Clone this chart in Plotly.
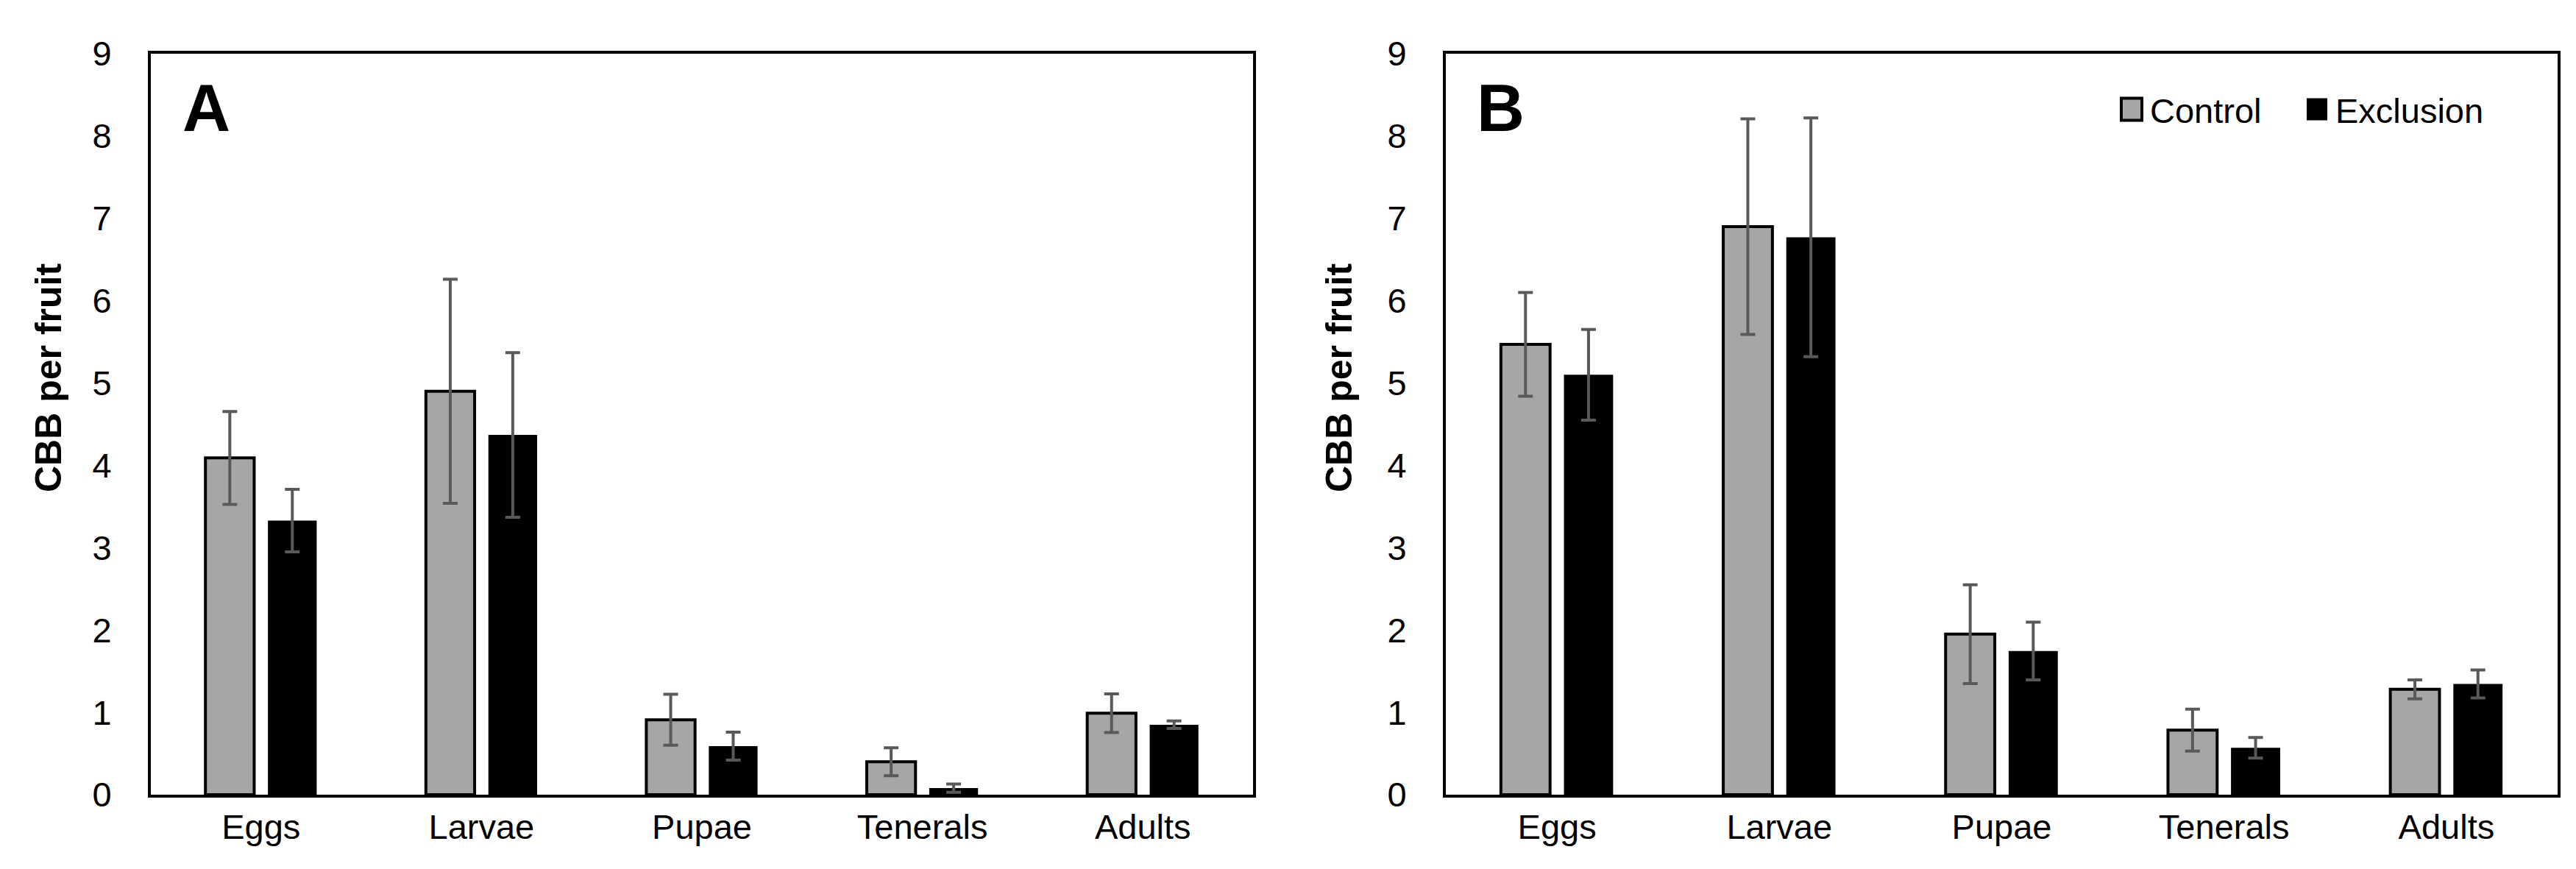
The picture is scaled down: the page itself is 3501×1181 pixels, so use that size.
import plotly.graph_objects as go

# ---- data ----
stages = ["Eggs", "Larvae", "Pupae", "Tenerals", "Adults"]

a_control = [4.09, 4.90, 0.91, 0.40, 0.99]
a_control_err = [0.565, 1.36, 0.31, 0.17, 0.235]
a_exclusion = [3.33, 4.37, 0.59, 0.08, 0.85]
a_exclusion_err = [0.38, 1.00, 0.17, 0.05, 0.045]

b_control = [5.47, 6.90, 1.95, 0.785, 1.28]
b_control_err = [0.63, 1.31, 0.60, 0.255, 0.115]
b_exclusion = [5.10, 6.77, 1.745, 0.57, 1.345]
b_exclusion_err = [0.55, 1.45, 0.35, 0.125, 0.17]

y_ticks = [0, 1, 2, 3, 4, 5, 6, 7, 8, 9]

# ---- figure ----
W, H = 3501, 1181
FONT = "Arial, Liberation Sans, sans-serif"
GRAY = "#A6A6A6"
ERR = "#595959"

fig = go.Figure()

def err(arr):
    return dict(type="data", array=arr, visible=True, color=ERR, thickness=4, width=10)

panels = [
    ("x", "y", a_control, a_control_err, a_exclusion, a_exclusion_err, True),
    ("x2", "y2", b_control, b_control_err, b_exclusion, b_exclusion_err, False),
]
for xa, ya, c, ce, e, ee, show in panels:
    fig.add_trace(go.Bar(
        x=stages, y=c, name="Control", xaxis=xa, yaxis=ya,
        marker=dict(color=GRAY, line=dict(color="black", width=4)),
        error_y=err(ce), legendgroup="c", showlegend=show,
    ))
    fig.add_trace(go.Bar(
        x=stages, y=e, name="Exclusion", xaxis=xa, yaxis=ya,
        marker=dict(color="black", line=dict(color="black", width=0)),
        error_y=err(ee), legendgroup="e", showlegend=show,
    ))

def px_x(p):
    return p / W

def px_y(p):
    return 1 - p / H

y_dom = [px_y(1072), px_y(65)]
xa_common = dict(
    showline=True, linecolor="black", linewidth=4, mirror=True,
    showgrid=False, zeroline=False, ticks="", automargin=False,
    tickfont=dict(family=FONT, size=47, color="black"),
    ticklabelstandoff=0,
)
ya_common = dict(
    range=[0, 9], tickvals=y_ticks,
    showline=True, linecolor="black", linewidth=4, mirror=True,
    showgrid=False, zeroline=False, ticks="", automargin=False,
    tickfont=dict(family=FONT, size=47, color="black"),
    ticklabelstandoff=40,
)

fig.update_layout(
    template="none",
    width=W, height=H,
    margin=dict(l=0, r=0, t=0, b=0, pad=0),
    paper_bgcolor="white", plot_bgcolor="white",
    barmode="group", bargap=0.433, bargroupgap=0.22,
    font=dict(family=FONT, color="black"),
    xaxis=dict(domain=[px_x(197), px_x(1695)], anchor="y", **xa_common),
    yaxis=dict(domain=y_dom, anchor="x", **ya_common),
    xaxis2=dict(domain=[px_x(1957), px_x(3468)], anchor="y2", **xa_common),
    yaxis2=dict(domain=y_dom, anchor="x2", **ya_common),
    legend=dict(
        orientation="h", x=px_x(2864), y=px_y(141), xanchor="left", yanchor="middle",
        font=dict(family=FONT, size=47, color="black"),
        bgcolor="rgba(0,0,0,0)", traceorder="normal", itemwidth=40,
        entrywidth=197, entrywidthmode="pixels",
    ),
    showlegend=True,
)

annotations = [
    dict(text="<b>CBB per fruit</b>", x=px_x(58), y=px_y(506), textangle=-90),
    dict(text="<b>CBB per fruit</b>", x=px_x(1812), y=px_y(506), textangle=-90),
]
for a in annotations:
    a.update(xref="paper", yref="paper", showarrow=False, xanchor="center", yanchor="middle",
             font=dict(family=FONT, size=50, color="black"))
letters = [
    dict(text="<b>A</b>", x=px_x(272), y=px_y(139)),
    dict(text="<b>B</b>", x=px_x(2031), y=px_y(139)),
]
for a in letters:
    a.update(xref="paper", yref="paper", showarrow=False, xanchor="center", yanchor="middle",
             font=dict(family=FONT, size=90, color="black"))
fig.update_layout(annotations=annotations + letters)

# enlarge the legend swatches to match the reference's big squares
post = """
var gd = document.getElementById('{plot_id}');
function bigSwatches(){
  var paths = gd.querySelectorAll('.legend .legendpoints path');
  paths.forEach(function(p){ p.setAttribute('d', 'M14,15H-14V-15H14Z'); });
}
bigSwatches();
gd.on('plotly_afterplot', bigSwatches);
"""
fig.write_html("out.html", post_script=post)
